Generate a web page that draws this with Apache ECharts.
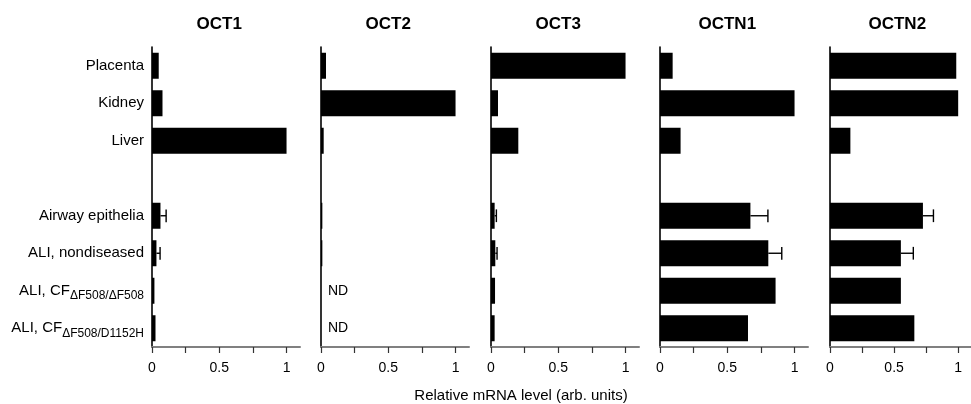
<!DOCTYPE html>
<html>
<head>
<meta charset="utf-8">
<script src="https://cdn.jsdelivr.net/npm/echarts@6/dist/echarts.min.js"></script>
<style>
html,body{margin:0;padding:0;background:#fff;}
#chart{width:971px;height:404px;}
</style>
</head>
<body>
<div id="chart"></div>
<script>
// ---- data ----
const categories = ['Placenta', 'Kidney', 'Liver', '', 'Airway epithelia', 'ALI, nondiseased', 'ALI, CF ΔF508/ΔF508', 'ALI, CF ΔF508/D1152H'];
const labelMain = ['Placenta', 'Kidney', 'Liver', '', 'Airway epithelia', 'ALI, nondiseased', 'ALI, CF', 'ALI, CF'];
const labelSub = ['', '', '', '', '', '', 'ΔF508/ΔF508', 'ΔF508/D1152H'];
const panelTitles = ['OCT1', 'OCT2', 'OCT3', 'OCTN1', 'OCTN2'];
const xTickValues = [0, 0.25, 0.5, 0.75, 1];
const xLabelValues = [0, 0.5, 1];
const xAxisTitle = 'Relative mRNA level (arb. units)';

const oct1 = [0.05, 0.078, 1.0, null, 0.063, 0.033, 0.018, 0.026];
const oct1Err = [null, null, null, null, 0.042, 0.027, null, null];
const oct2 = [0.037, 1.0, 0.02, null, 0.01, 0.01, 'ND', 'ND'];
const oct2Err = [null, null, null, null, null, null, null, null];
const oct3 = [1.0, 0.052, 0.203, null, 0.027, 0.032, 0.03, 0.027];
const oct3Err = [null, null, null, null, 0.013, 0.013, null, null];
const octn1 = [0.094, 1.0, 0.153, null, 0.672, 0.805, 0.859, 0.654];
const octn1Err = [null, null, null, null, 0.13, 0.10, null, null];
const octn2 = [0.985, 1.0, 0.159, null, 0.725, 0.553, 0.553, 0.658];
const octn2Err = [null, null, null, null, 0.082, 0.097, null, null];

const panelValues = [oct1, oct2, oct3, octn1, octn2];
const panelErrors = [oct1Err, oct2Err, oct3Err, octn1Err, octn2Err];

// ---- layout ----
const FONT = '"Liberation Sans", Arial, sans-serif';
const gridLefts = [152, 321, 491, 660, 830];
const gridWidth = 148;
const gridTop = 47;
const gridHeight = 300;
const xMax = 1.1;

const chart = echarts.init(document.getElementById('chart'));

const grids = [], xAxes = [], yAxes = [], series = [], graphics = [];

panelValues.forEach((vals, p) => {
  grids.push({left: gridLefts[p], top: gridTop, width: gridWidth, height: gridHeight, containLabel: false});
  xAxes.push({
    type: 'value', gridIndex: p, min: 0, max: xMax,
    axisLine: {show: true, lineStyle: {color: '#808080', width: 2}},
    axisTick: {show: true, length: 6, customValues: xTickValues, lineStyle: {color: '#333', width: 1.2}},
    axisLabel: {
      show: true, customValues: xLabelValues, margin: 14,
      fontFamily: FONT, fontSize: 14, color: '#000',
      formatter: v => String(v)
    },
    splitLine: {show: false}
  });
  yAxes.push({
    type: 'category', gridIndex: p, data: categories, inverse: true,
    axisLine: {show: true, lineStyle: {color: '#000', width: 1.6}},
    axisTick: {show: false},
    axisLabel: {
      show: p === 0, margin: 8, interval: 0,
      fontFamily: FONT, fontSize: 15, color: '#000',
      formatter: (value, idx) => {
        if (labelSub[idx]) return '{m|' + labelMain[idx] + '}{s|' + labelSub[idx] + '}';
        return '{n|' + labelMain[idx] + '}';
      },
      rich: {
        n: {fontFamily: FONT, fontSize: 15, color: '#000'},
        m: {fontFamily: FONT, fontSize: 15, color: '#000', lineHeight: 15, verticalAlign: 'top', padding: [0, 0, 10, 0]},
        s: {fontFamily: FONT, fontSize: 12, color: '#000', lineHeight: 12, verticalAlign: 'top', padding: [6.5, 0, 0, 0]}
      }
    },
    splitLine: {show: false}
  });
  series.push({
    type: 'bar', xAxisIndex: p, yAxisIndex: p, barWidth: 26,
    itemStyle: {color: '#000'},
    silent: true,
    data: vals.map(v => v === 'ND'
      ? {value: 0, label: {show: true, position: 'right', distance: 7, formatter: 'ND', fontFamily: FONT, fontSize: 14, color: '#000'}}
      : v)
  });
  const errs = panelErrors[p];
  const errData = [];
  vals.forEach((v, i) => { if (errs[i] != null && typeof v === 'number') errData.push([v, i, v + errs[i]]); });
  series.push({
    type: 'custom', xAxisIndex: p, yAxisIndex: p, silent: true,
    encode: {x: [0, 2], y: 1},
    data: errData,
    renderItem: (params, api) => {
      const a = api.coord([api.value(0), api.value(1)]);
      const b = api.coord([api.value(2), api.value(1)]);
      const h = api.size([0, 1])[1] * 0.17;
      return {type: 'group', children: [
        {type: 'line', shape: {x1: a[0], y1: a[1], x2: b[0], y2: b[1]}, style: {stroke: '#000', lineWidth: 1.4}},
        {type: 'line', shape: {x1: b[0], y1: b[1] - h, x2: b[0], y2: b[1] + h}, style: {stroke: '#000', lineWidth: 1.4}}
      ]};
    }
  });
  graphics.push({
    type: 'text', x: gridLefts[p] + gridWidth / xMax / 2, y: 24,
    style: {text: panelTitles[p], font: 'bold 17px ' + FONT, fill: '#000', textAlign: 'center', textVerticalAlign: 'middle'}
  });
});

graphics.push({
  type: 'text', x: 521, y: 396,
  style: {text: xAxisTitle, font: '15px ' + FONT, fill: '#000', textAlign: 'center', textVerticalAlign: 'middle'}
});

chart.setOption({
  backgroundColor: '#fff',
  animation: false,
  grid: grids,
  xAxis: xAxes,
  yAxis: yAxes,
  series: series,
  graphic: graphics
});
</script>
</body>
</html>
